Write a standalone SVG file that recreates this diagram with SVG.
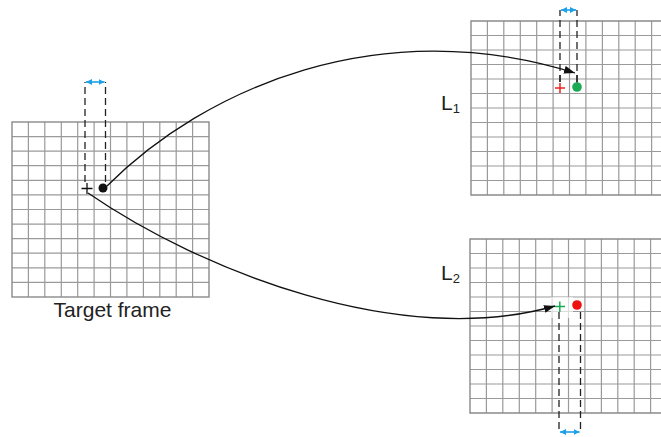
<svg xmlns="http://www.w3.org/2000/svg" width="661" height="437" viewBox="0 0 661 437">
<defs>
<style>
.grid{fill:none;stroke:#9a9a9a;stroke-width:1.2}
.border{fill:none;stroke:#8a8a8a;stroke-width:1.4}
.dash{fill:none;stroke:#222;stroke-width:1.3;stroke-dasharray:7 4}
.conn{fill:none;stroke:#111;stroke-width:1.3}
.blue{fill:none;stroke:#1ea0e8;stroke-width:1.6}
.lbl{font-family:"Liberation Sans",Arial,sans-serif;fill:#222}
</style>
<marker id="ah" viewBox="0 0 11 8" refX="11" refY="4" markerWidth="11" markerHeight="8" markerUnits="userSpaceOnUse" orient="auto">
<path d="M0,0 L11,4 L0,8 Z" fill="#111"/>
</marker>
<marker id="bh" viewBox="0 0 6 6" refX="6" refY="3" markerWidth="6" markerHeight="6" markerUnits="userSpaceOnUse" orient="auto-start-reverse">
<path d="M0,0 L6,3 L0,6 Z" fill="#1ea0e8"/>
</marker>
<clipPath id="clipR"><rect x="0" y="0" width="661" height="437"/></clipPath>
</defs>
<rect width="661" height="437" fill="#fff"/>

<g id="target-frame">
<path class="grid" d="M28.4,122V297M44.8,122V297M61.3,122V297M77.7,122V297M94.1,122V297M110.5,122V297M126.9,122V297M143.4,122V297M159.8,122V297M176.2,122V297M192.6,122V297M12,136.6H209M12,151.2H209M12,165.7H209M12,180.3H209M12,194.9H209M12,209.5H209M12,224.1H209M12,238.6H209M12,253.2H209M12,267.8H209M12,282.4H209"/>
<rect class="border" x="12" y="122" width="197" height="175"/>
<path class="dash" d="M85,182V82M105.5,182V82"/>
<line class="blue" x1="86" y1="82" x2="104.5" y2="82" marker-start="url(#bh)" marker-end="url(#bh)"/>
<path d="M81.5,188.5H92.5M87,183V194" stroke="#111" stroke-width="1.3" fill="none"/>
<circle cx="103" cy="188" r="4.5" fill="#111"/>
<text class="lbl" x="112.5" y="316.5" font-size="21" text-anchor="middle">Target frame</text>
</g>

<g id="frame-L1" clip-path="url(#clipR)">
<path class="grid" d="M487.4,21V195M503.8,21V195M520.3,21V195M536.7,21V195M553.1,21V195M569.5,21V195M585.9,21V195M602.4,21V195M618.8,21V195M635.2,21V195M651.6,21V195M471,35.5H661M471,50H661M471,64.5H661M471,79H661M471,93.5H661M471,108H661M471,122.5H661M471,137H661M471,151.5H661M471,166H661M471,180.5H661"/>
<path class="border" d="M662,21H471V195H662"/>
<path class="dash" d="M560,82V10M577,82V10"/>
<path d="M560,75V82M577,75V83" stroke="#222" stroke-width="1.3" fill="none"/>
<line class="blue" x1="561" y1="10" x2="576" y2="10" marker-start="url(#bh)" marker-end="url(#bh)"/>
<path d="M555,88H565M560,83V93" stroke="#ee2222" stroke-width="1.5" fill="none"/>
<circle cx="577" cy="87" r="4.8" fill="#1aaa55"/>
<text class="lbl" x="441" y="110" font-size="21">L<tspan font-size="13" dy="3">1</tspan></text>
</g>

<g id="frame-L2" clip-path="url(#clipR)">
<path class="grid" d="M486.4,239V413M502.8,239V413M519.3,239V413M535.7,239V413M552.1,239V413M568.5,239V413M584.9,239V413M601.4,239V413M617.8,239V413M634.2,239V413M650.6,239V413M470,253.5H661M470,268H661M470,282.5H661M470,297H661M470,311.5H661M470,326H661M470,340.5H661M470,355H661M470,369.5H661M470,384H661M470,398.5H661"/>
<path class="border" d="M662,239H470V413H662"/>
<rect x="551" y="297" width="22" height="21" fill="#fff" opacity="0.65"/>
<path class="dash" d="M559,312V432M580.5,312V432"/>
<line class="blue" x1="560" y1="432" x2="579.5" y2="432" marker-start="url(#bh)" marker-end="url(#bh)"/>
<path d="M554.5,306.5H565M559.8,301.5V312" stroke="#1aaa55" stroke-width="1.5" fill="none"/>
<circle cx="577" cy="305" r="4.8" fill="#ee1111"/>
<text class="lbl" x="441" y="280" font-size="21">L<tspan font-size="13" dy="3">2</tspan></text>
</g>

<g id="connectors">
<path class="conn" d="M107,186 C205,88 380,12 575,73" marker-end="url(#ah)"/>
<path class="conn" d="M88,193 C200,270 400,350 555,306" marker-end="url(#ah)"/>
</g>
</svg>
